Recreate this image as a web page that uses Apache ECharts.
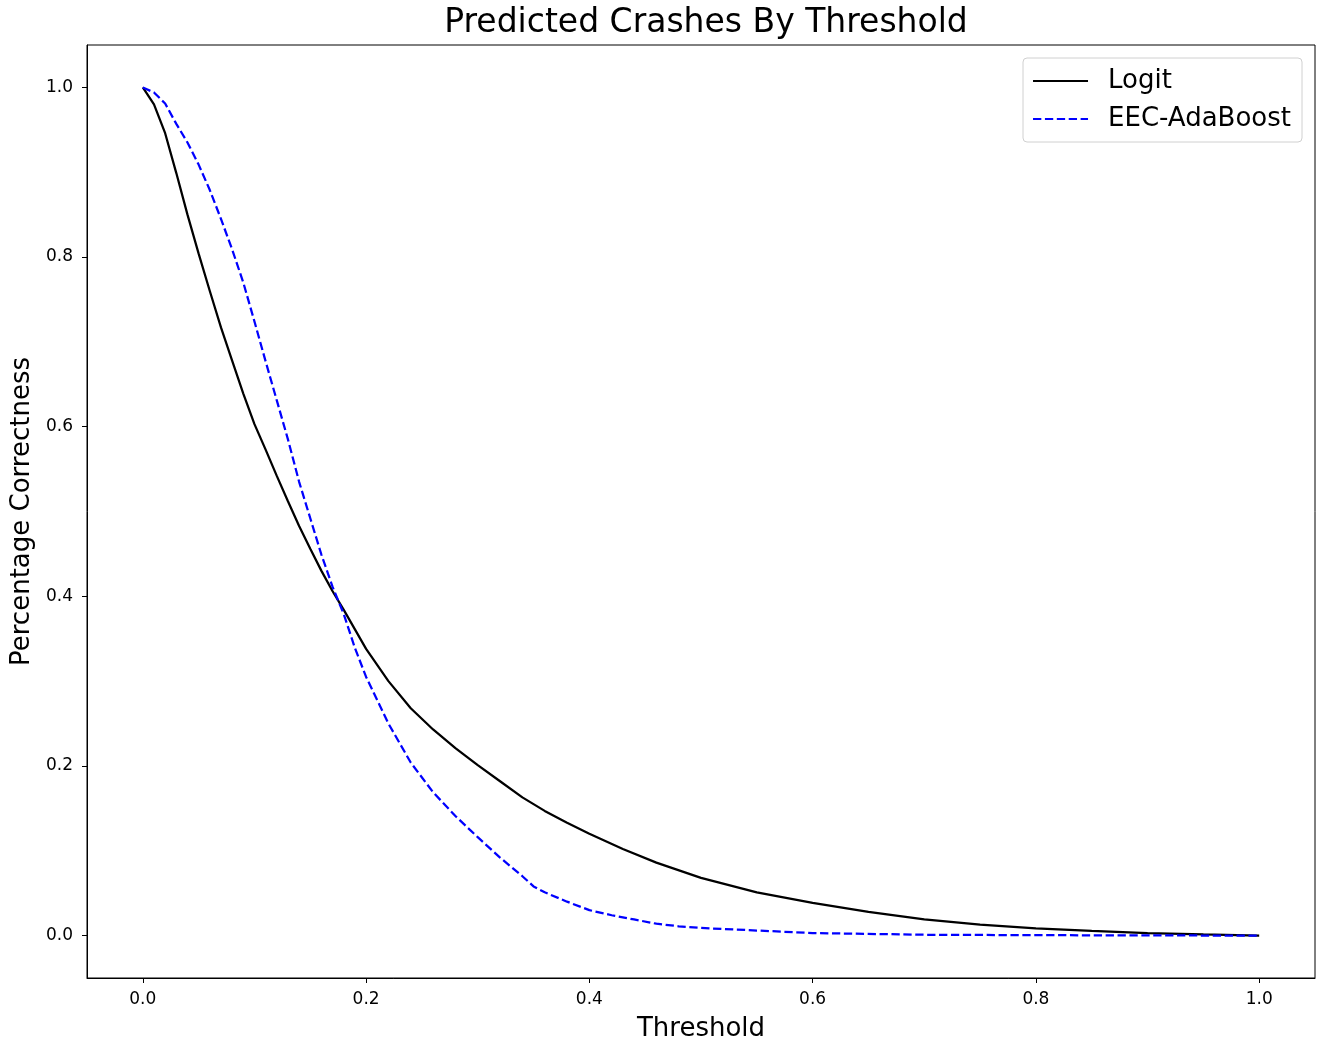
<!DOCTYPE html>
<html>
<head>
<meta charset="utf-8">
<script src="https://cdn.jsdelivr.net/npm/echarts@6/dist/echarts.min.js"></script>
<style>
  html, body { margin: 0; padding: 0; background: #fff; }
  #chart { width: 1318px; height: 1045px; }
</style>
</head>
<body>
<div id="chart"></div>
<script>
// thresholds and values
var logitX = [0, 0.01, 0.02, 0.03, 0.04, 0.05, 0.06, 0.07, 0.08, 0.09, 0.10, 0.11, 0.12, 0.13, 0.14, 0.15,
              0.16, 0.17, 0.18, 0.19, 0.20, 0.22, 0.24, 0.26, 0.28, 0.30, 0.32, 0.34, 0.36, 0.38, 0.40,
              0.43, 0.46, 0.50, 0.55, 0.60, 0.65, 0.70, 0.75, 0.80, 0.85, 0.90, 0.95, 1.0];
var logitY = [1.0, 0.98, 0.946, 0.899, 0.85, 0.804, 0.76, 0.717, 0.678, 0.639, 0.603, 0.573, 0.542, 0.512, 0.483, 0.456,
              0.43, 0.406, 0.384, 0.361, 0.338, 0.300, 0.268, 0.243, 0.221, 0.201, 0.182, 0.163, 0.147, 0.133, 0.120,
              0.102, 0.086, 0.068, 0.051, 0.0385, 0.028, 0.019, 0.013, 0.0085, 0.0055, 0.003, 0.0013, 0.0];

var adaX = [0, 0.01, 0.02, 0.03, 0.04, 0.05, 0.06, 0.07, 0.08, 0.09, 0.10, 0.11, 0.12, 0.13, 0.14, 0.15,
            0.16, 0.17, 0.18, 0.19, 0.20, 0.22, 0.24, 0.26, 0.28, 0.30, 0.32, 0.34, 0.35, 0.36, 0.38, 0.40,
            0.42, 0.44, 0.46, 0.48, 0.50, 0.55, 0.60, 0.70, 0.80, 0.90, 1.0];
var adaY = [1.0, 0.994, 0.981, 0.957, 0.935, 0.909, 0.879, 0.845, 0.809, 0.770, 0.724, 0.677, 0.631, 0.585, 0.535, 0.492,
            0.449, 0.411, 0.379, 0.339, 0.305, 0.250, 0.204, 0.169, 0.141, 0.116, 0.092, 0.070, 0.058, 0.051, 0.040, 0.030,
            0.024, 0.019, 0.014, 0.011, 0.009, 0.006, 0.003, 0.001, 0.0005, 0.0002, 0.0];

var tickX = [0, 0.2, 0.4, 0.6, 0.8, 1.0];
var tickY = [0, 0.2, 0.4, 0.6, 0.8, 1.0];

function pairs(xs, ys) {
    return xs.map((x, i) => [x, ys[i]]);
}

var chart = echarts.init(document.getElementById('chart'), null, { renderer: 'canvas' });
var font = 'DejaVu Sans';

var option = {
    backgroundColor: '#fff',
    animation: false,
    title: {
        text: 'Predicted Crashes By Threshold',
        left: 701,
        textAlign: 'center',
        top: 2,
        textStyle: { fontFamily: font, fontSize: 33, fontWeight: 'normal', color: '#000' }
    },
    legend: {
        orient: 'vertical',
        right: 16,
        top: 58,
        padding: [10, 11, 10, 9],
        itemWidth: 55,
        itemHeight: 26,
        itemGap: 12,
        borderColor: '#d0d0d0',
        borderWidth: 1,
        borderRadius: 4,
        itemStyle: { opacity: 0 },
        textStyle: { fontFamily: font, fontSize: 26, color: '#000', padding: [0, 0, 0, 15] },
        data: ['Logit', 'EEC-AdaBoost']
    },
    grid: {
        left: 87, right: 3, top: 45, bottom: 67,
        outerBoundsMode: 'none',
        show: true, borderColor: '#000', borderWidth: 1, backgroundColor: 'transparent'
    },
    xAxis: {
        type: 'value',
        min: -0.05, max: 1.05,
        name: 'Threshold',
        nameLocation: 'middle',
        nameGap: 38,
        nameTextStyle: { fontFamily: font, fontSize: 26, color: '#000' },
        axisLine: { show: true, onZero: false, lineStyle: { color: '#000', width: 1 } },
        axisTick: { show: true, length: 5, customValues: tickX, lineStyle: { color: '#000' } },
        axisLabel: {
            customValues: tickX, fontFamily: font, fontSize: 17, color: '#000', margin: 13,
            formatter: v => v.toFixed(1)
        },
        splitLine: { show: false }
    },
    yAxis: {
        type: 'value',
        min: -0.05, max: 1.05,
        name: 'Percentage Correctness',
        nameLocation: 'middle',
        nameGap: 50,
        nameTextStyle: { fontFamily: font, fontSize: 26, color: '#000' },
        axisLine: { show: true, onZero: false, lineStyle: { color: '#000', width: 1 } },
        axisTick: { show: true, length: 5, customValues: tickY, lineStyle: { color: '#000' } },
        axisLabel: {
            customValues: tickY, fontFamily: font, fontSize: 17, color: '#000', margin: 14,
            formatter: v => v.toFixed(1)
        },
        splitLine: { show: false }
    },
    series: [
        {
            name: 'Logit',
            type: 'line',
            data: pairs(logitX, logitY),
            showSymbol: false,
            symbol: 'none',
            color: '#000',
            lineStyle: { color: '#000', width: 2.25 }
        },
        {
            name: 'EEC-AdaBoost',
            type: 'line',
            data: pairs(adaX, adaY),
            showSymbol: false,
            symbol: 'none',
            color: '#0000ff',
            lineStyle: { color: '#0000ff', width: 2.25, type: [8.3, 3.6] }
        }
    ]
};

option && chart.setOption(option);
</script>
</body>
</html>
